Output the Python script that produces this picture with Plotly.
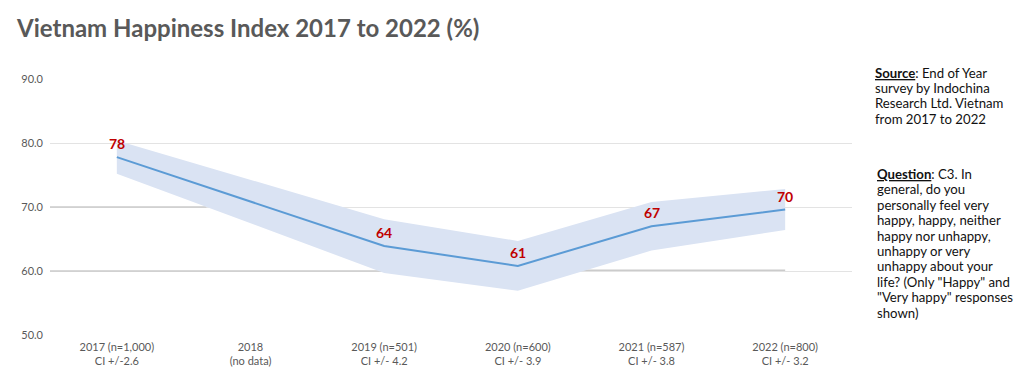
import plotly.graph_objects as go

# ---- data ----
categories = ["2017 (n=1,000)<br>CI +/-2.6", "2018<br>(no data)", "2019 (n=501)<br>CI +/- 4.2",
              "2020 (n=600)<br>CI +/- 3.9", "2021 (n=587)<br>CI +/- 3.8", "2022 (n=800)<br>CI +/- 3.2"]
happy_pct = [77.8, None, 63.9, 60.8, 67.0, 69.6]
ci_half = [2.6, None, 4.2, 3.9, 3.8, 3.2]
point_labels = ["78", "", "64", "61", "67", "70"]
y_ticks = [50, 60, 70, 80, 90]

source_lines = ["<u><b>Source</b></u>: End of Year", "survey by Indochina",
                "Research Ltd. Vietnam", "from 2017 to 2022"]
question_lines = ["<u><b>Question</b></u>: C3. In", "general, do you", "personally feel very",
                  "happy, happy, neither", "happy nor unhappy,", "unhappy or very",
                  "unhappy about your", "life? (Only \"Happy\" and",
                  "\"Very happy\" responses", "shown)"]

# faint leftover guide segments visible in the original picture
guide70_x = [-0.5, 0.67]
guide70_y = [70, 70]
guide60a_x = [-0.5, 1.99]
guide60a_y = [60, 60]
guide60b_x = [3.47, 5.0]
guide60b_y = [60.1, 60.1]

idx = list(range(len(categories)))
valid = [i for i in idx if happy_pct[i] is not None]
upper = [happy_pct[i] + ci_half[i] for i in valid]
lower = [happy_pct[i] - ci_half[i] for i in valid]
band_x = valid + valid[::-1]
band_y = upper + lower[::-1]

GREY = "#595959"
FONT = "Lato"
W, H = 1016, 366
L, R, T, B = 42, 172, 71, 39
PW, PH = W - L - R, H - T - B


def px_x(px):
    return (px - L) / PW


def px_y(py):
    return (H - B - py) / PH


fig = go.Figure()

for gx, gy in [(guide70_x, guide70_y), (guide60a_x, guide60a_y), (guide60b_x, guide60b_y)]:
    fig.add_trace(go.Scatter(x=gx, y=gy, mode="lines", line=dict(color="#CBCBCB", width=1.5),
                             hoverinfo="skip", showlegend=False))

fig.add_trace(go.Scatter(x=band_x, y=band_y, fill="toself", fillcolor="#DAE3F3",
                         line=dict(width=0), mode="lines", hoverinfo="skip", showlegend=False))

fig.add_trace(go.Scatter(x=idx, y=happy_pct, mode="lines", connectgaps=True,
                         line=dict(color="#5B9BD5", width=2), showlegend=False))

for i in valid:
    fig.add_annotation(x=i, y=happy_pct[i], text=point_labels[i], showarrow=False,
                       yanchor="bottom", yshift=3,
                       font=dict(family=FONT, size=14, color="#C00000", weight="bold"))

fig.update_layout(
    width=W, height=H,
    margin=dict(l=L, r=R, t=T, b=B),
    paper_bgcolor="white", plot_bgcolor="white",
    font=dict(family=FONT, color=GREY, size=11),
    title=dict(text="<b>Vietnam Happiness Index 2017 to 2022 (%)</b>",
               x=9 / W, xanchor="left", xref="container",
               y=1 - 21 / H, yanchor="middle", yref="container",
               font=dict(family=FONT, size=24, color=GREY)),
    xaxis=dict(range=[-0.5, 5.5], tickmode="array", tickvals=idx, ticktext=categories,
               showgrid=False, zeroline=False, showline=False, ticks="",
               ticklabelstandoff=4, automargin=False,
               tickfont=dict(family=FONT, size=11, color=GREY)),
    yaxis=dict(range=[50, 90], tickvals=y_ticks, tickformat=".1f",
               showgrid=True, gridcolor="#E3E3E3", gridwidth=1, zeroline=False,
               showline=False, ticks="", ticklabelstandoff=6, automargin=False,
               tickfont=dict(family=FONT, size=11, color=GREY)),
)

TXT = "#111111"
for k, line in enumerate(source_lines):
    fig.add_annotation(xref="paper", yref="paper", x=px_x(865), y=px_y(64.5 + 15.4 * k),
                       xanchor="left", yanchor="middle", align="left", showarrow=False,
                       text=line, font=dict(family=FONT, size=13.2, color=TXT))
for k, line in enumerate(question_lines):
    fig.add_annotation(xref="paper", yref="paper", x=px_x(867), y=px_y(166 + 15.4 * k),
                       xanchor="left", yanchor="middle", align="left", showarrow=False,
                       text=line, font=dict(family=FONT, size=13.2, color=TXT))

fig.write_html("out.html")
